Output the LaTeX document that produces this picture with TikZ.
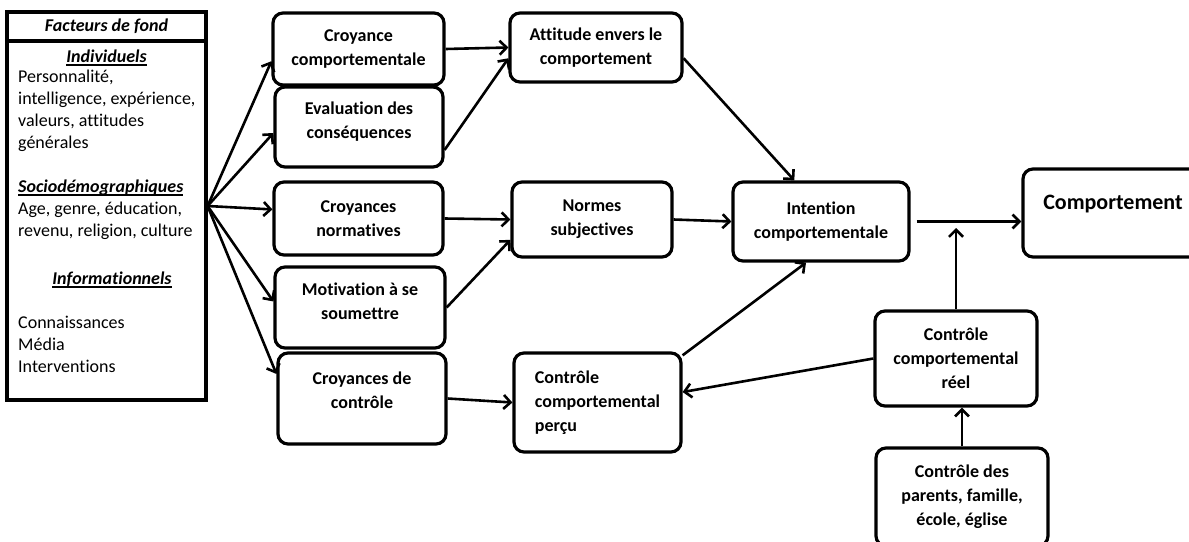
\documentclass[tikz,border=0pt]{standalone}
\usepackage{fontspec}
\setmainfont{Carlito}[RawFeature=-liga, RawFeature=-clig, RawFeature=-dlig, RawFeature=-calt]
\usetikzlibrary{arrows.meta}
\newcommand{\souligne}[1]{\setbox0=\hbox{#1}\leavevmode\rlap{\vrule width\wd0 height -1.6pt depth 3pt}\box0}

\begin{document}
\begin{tikzpicture}[x=1pt, y=-1pt, font=\fontsize{18}{22}\selectfont,
	boite/.style={draw, rounded corners=10pt, line width=3.2pt, font=\fontsize{18}{24}\selectfont\bfseries, align=center, inner sep=4pt},
	cadre/.style={draw, line width=3.2pt, inner sep=0pt},
	texte/.style={inner sep=0pt, align=left, anchor=west},
	titre/.style={inner sep=0pt, font=\fontsize{18}{22}\selectfont\bfseries\itshape},
	fleche/.style={line width=2.6pt, -{Straight Barb[length=7pt, width=14pt]}}]
	
	\useasboundingbox (0,0) rectangle (1189,541);
	
	\node[cadre, minimum width=199pt, minimum height=388pt] (fond) at (106.5,206) {};
	\node[cadre, titre, minimum width=199pt, minimum height=29pt] (entete) at (106.5,26.5) {Facteurs de fond};
	\node[titre] (indiv) at (106.5,58) {\souligne{Individuels}};
	\node[texte] (perso) at (18,110.5) {Personnalité,\\intelligence, expérience,\\valeurs, attitudes\\générales};
	\node[titre, anchor=west] (socio) at (18,188) {\souligne{Sociodémographiques}};
	\node[texte] (age) at (18,221) {Age, genre, éducation,\\revenu, religion, culture};
	\node[titre] (info) at (112,280) {\souligne{Informationnels}};
	\node[texte] (connais) at (18,344.5) {Connaissances\\Média\\Interventions};
	
	\node[boite, minimum width=171pt, minimum height=72pt] (ccomp) at (358.5,49) {Croyance\\comportementale};
	\node[boite, minimum width=168pt, minimum height=80pt, text depth=13pt] (eval) at (359,127) {Evaluation des\\conséquences};
	\node[boite, minimum width=169pt, minimum height=73pt] (cnorm) at (358.5,218.5) {Croyances\\normatives};
	\node[boite, minimum width=170pt, minimum height=81pt, text depth=12pt] (motiv) at (360,307.5) {Motivation à se\\soumettre};
	\node[boite, minimum width=168pt, minimum height=91pt, text depth=17pt] (cctrl) at (362,398.5) {Croyances de\\contrôle};
	\node[boite, minimum width=172pt, minimum height=69pt] (att) at (596,47.5) {Attitude envers le\\comportement};
	\node[boite, minimum width=160pt, minimum height=75pt] (normes) at (592,219.5) {Normes\\subjectives};
	\node[boite, align=left, minimum width=167pt, minimum height=99pt] (percu) at (597.5,402.5) {Contrôle\\comportemental\\perçu};
	\node[boite, minimum width=176pt, minimum height=79pt] (int) at (821,221.5) {Intention\\comportementale};
	\node[boite, font=\fontsize{22}{26}\selectfont\bfseries, text height=14pt, text depth=22pt, minimum width=180pt, minimum height=88pt] (comp) at (1113,213) {Comportement};
	\node[boite, minimum width=162pt, minimum height=95pt] (reel) at (956,358.5) {Contrôle\\comportemental\\réel};
	\node[boite, minimum width=172pt, minimum height=98pt] (parents) at (962,497) {Contrôle des\\parents, famille,\\école, église};
	\coordinate (jonction) at (956,228);
	
	\draw[fleche] (fond.east) to (ccomp.188);
	\draw[fleche] (fond.east) to (eval.184);
	\draw[fleche] (fond.east) to (cnorm.174);
	\draw[fleche] (fond.east) to (motiv.176);
	\draw[fleche] (fond.east) to (cctrl.164);
	\draw[fleche] (ccomp.east) to (att.west);
	\draw[fleche] (eval.-15) to (att.187);
	\draw[fleche] (cnorm.east) to (normes.west);
	\draw[fleche] (motiv.east) to (normes.194);
	\draw[fleche] (cctrl.east) to (percu.west);
	\draw[fleche] (att.-7) to (int.123);
	\draw[fleche] (normes.east) to (int.west);
	\draw[fleche] (percu.29) to (int.250);
	\draw[fleche] (reel.west) to (percu.7);
	\draw[fleche, shorten <=6pt] (int.east) to (int.east -| comp.west);
	\draw[fleche] (reel.north) to (jonction);
	\draw[fleche] (parents.north) to (parents.north |- reel.south);
	
\end{tikzpicture}
\end{document}
